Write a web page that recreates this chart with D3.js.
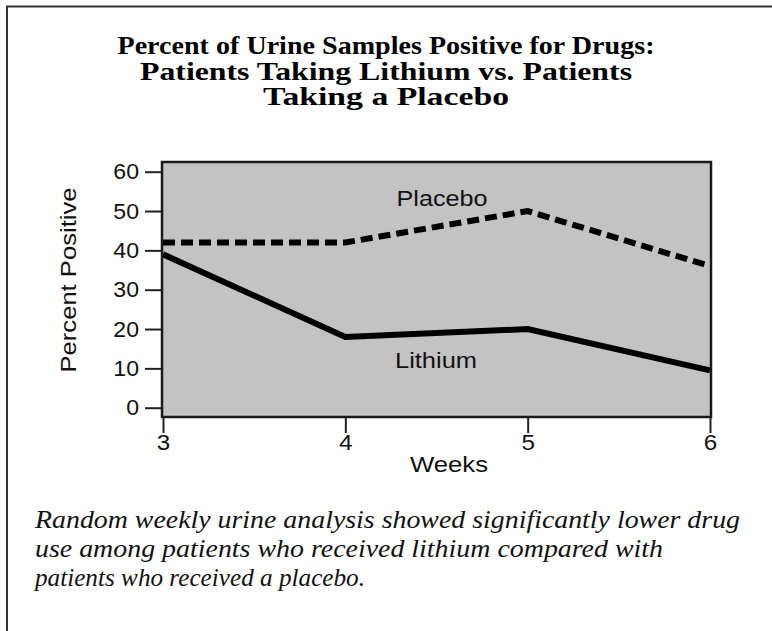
<!DOCTYPE html>
<html><head><meta charset="utf-8">
<script src="https://cdn.jsdelivr.net/npm/d3@7"></script>
<style>body{margin:0;background:#fff}svg{display:block}</style>
</head><body>
<svg id="c" width="772" height="631"></svg>
<script>
const weeks = [3, 4, 5, 6];
const placebo = [42, 42, 50, 36];
const lithium = [39, 18, 20, 9.5];
const yTicks = [0, 10, 20, 30, 40, 50, 60];
const titleLines = ["Percent of Urine Samples Positive for Drugs:", "Patients Taking Lithium vs. Patients", "Taking a Placebo"];
const captionLines = ["Random weekly urine analysis showed significantly lower drug", "use among patients who received lithium compared with", "patients who received a placebo."];

const svg = d3.select("#c");
function stretch(sel, f) {
  sel.each(function () {
    const w = this.getComputedTextLength();
    d3.select(this).attr("textLength", w * f).attr("lengthAdjust", "spacingAndGlyphs");
  });
}
function fitTo(sel, widths) {
  sel.each(function (d, i) {
    d3.select(this).attr("textLength", widths[i]).attr("lengthAdjust", "spacingAndGlyphs");
  });
}

svg.append("path").attr("d", "M7,631V6.5H772").attr("fill", "none").attr("stroke", "#333").attr("stroke-width", 2);

const tt = svg.append("g").selectAll("text").data(titleLines).join("text")
  .attr("x", 386).attr("y", (d, i) => 54 + i * 25.5)
  .attr("text-anchor", "middle")
  .attr("font-family", "Liberation Serif").attr("font-weight", "bold").attr("font-size", 24.5)
  .text(d => d);
fitTo(tt, [537, 492, 246]);

const x0 = 162, x1 = 711, yT = 162, yB = 417;
const x = d3.scaleLinear().domain([3, 6]).range([x0 + 1, x1 - 1]);
const y = d3.scaleLinear().domain([0, 60]).range([407.7, 171.7]);

svg.append("rect").attr("x", x0).attr("y", yT).attr("width", x1 - x0).attr("height", yB - yT)
  .attr("fill", "#c3c3c3").attr("stroke", "#1a1a1a").attr("stroke-width", 2.5);

const yAxis = d3.axisLeft(y).tickValues(yTicks).tickSize(16).tickPadding(6);
const gy = svg.append("g").attr("transform", `translate(${x0 - 1},0)`).call(yAxis);
gy.select(".domain").remove();
gy.selectAll("line").attr("stroke", "#222").attr("stroke-width", 2);
gy.selectAll("text").attr("font-family", "Liberation Sans").attr("font-size", 22).attr("fill", "#111");
stretch(gy.selectAll("text"), 1.05);

const xAxis = d3.axisBottom(x).tickValues(weeks).tickSize(15).tickPadding(1).tickFormat(d3.format("d"));
const gx = svg.append("g").attr("transform", `translate(0,${yB + 1})`).call(xAxis);
gx.select(".domain").remove();
gx.selectAll("line").attr("stroke", "#222").attr("stroke-width", 2);
gx.selectAll("text").attr("font-family", "Liberation Sans").attr("font-size", 22).attr("fill", "#111");
stretch(gx.selectAll("text"), 1.1);

const line = d3.line().x((d, i) => x(weeks[i])).y(d => y(d));
svg.append("clipPath").attr("id", "pc").append("rect")
  .attr("x", x0).attr("y", yT).attr("width", x1 - x0).attr("height", yB - yT);
svg.append("path").datum(placebo).attr("d", line).attr("clip-path", "url(#pc)")
  .attr("fill", "none").attr("stroke", "#000").attr("stroke-width", 6).attr("stroke-dasharray", "12,6");
svg.append("path").datum(lithium).attr("d", line).attr("clip-path", "url(#pc)")
  .attr("fill", "none").attr("stroke", "#000").attr("stroke-width", 6);

const lab = (t, cx, by, w) => svg.append("text").attr("x", cx).attr("y", by).attr("text-anchor", "middle")
  .attr("font-family", "Liberation Sans").attr("font-size", 22).attr("fill", "#111")
  .attr("textLength", w).attr("lengthAdjust", "spacingAndGlyphs").text(t);
lab("Placebo", 442, 206, 91);
lab("Lithium", 436, 368, 82);
lab("Weeks", 449, 472, 78);
svg.append("text").attr("transform", "translate(76,280) rotate(-90)").attr("text-anchor", "middle")
  .attr("font-family", "Liberation Sans").attr("font-size", 22).attr("fill", "#111")
  .attr("textLength", 185).attr("lengthAdjust", "spacingAndGlyphs").text("Percent Positive");

const ct = svg.append("g").selectAll("text").data(captionLines).join("text")
  .attr("x", 35).attr("y", (d, i) => 528 + i * 29)
  .attr("font-family", "Liberation Serif").attr("font-style", "italic").attr("font-size", 25)
  .attr("fill", "#111")
  .text(d => d);
fitTo(ct, [705, 628, 330]);
</script>
</body></html>
